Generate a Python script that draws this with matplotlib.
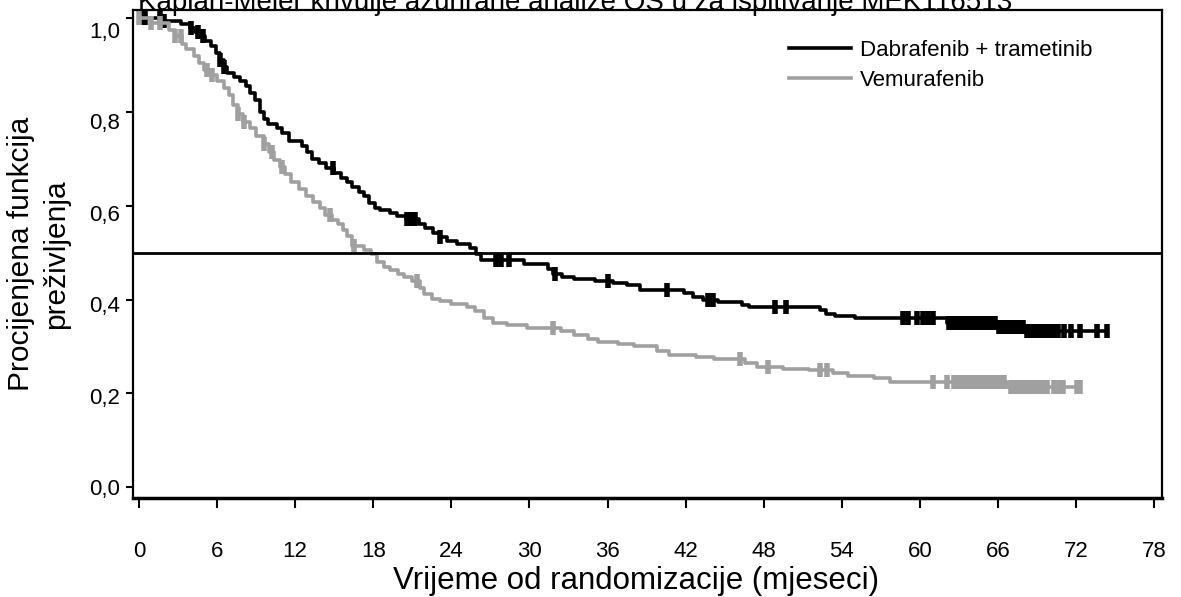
import numpy as np
import matplotlib
matplotlib.use('Agg')
import matplotlib.pyplot as plt
import matplotlib.transforms as mtransforms

plt.rcParams['font.family'] = ['Liberation Sans', 'DejaVu Sans']

# Dabrafenib + trametinib: step times (months) and survival after each step
dt_time = [0, 1.9, 3.2, 3.9, 4.3, 4.7, 5.1, 5.5, 5.9, 6.2, 6.5, 6.8, 7.3, 7.8, 8.2, 8.5,
           8.9, 9.3, 9.6, 9.9, 10.6, 11.0, 11.5, 12.5, 12.9, 13.3, 13.8, 14.4, 15.0, 15.5,
           16.0, 16.4, 16.9, 17.3, 17.7, 18.1, 18.5, 19.3, 19.8, 20.5, 21.5, 22.0, 22.6,
           23.1, 23.7, 24.4, 25.4, 25.9, 26.3, 29.6, 31.4, 31.8, 32.5, 33.4, 35.0, 36.4,
           37.5, 38.5, 41.9, 42.6, 43.3, 44.5, 46.3, 46.9, 52.3, 52.8, 53.5, 55.0, 62.1,
           66.0, 68.1]
dt_surv = [1.0, 0.993, 0.988, 0.978, 0.97, 0.962, 0.952, 0.94, 0.925, 0.91, 0.895, 0.882,
           0.875, 0.866, 0.855, 0.84, 0.825, 0.80, 0.785, 0.775, 0.765, 0.755, 0.738, 0.728,
           0.715, 0.70, 0.69, 0.68, 0.67, 0.66, 0.65, 0.64, 0.63, 0.62, 0.605, 0.595, 0.59,
           0.585, 0.578, 0.572, 0.56, 0.552, 0.542, 0.533, 0.525, 0.518, 0.51, 0.498, 0.484,
           0.476, 0.465, 0.455, 0.448, 0.443, 0.44, 0.435, 0.43, 0.42, 0.413, 0.405, 0.398,
           0.394, 0.388, 0.384, 0.377, 0.37, 0.365, 0.361, 0.35, 0.342, 0.334]
dt_end = 74.4
dt_cens = [0.2, 0.5, 1.6, 1.9, 4.0, 4.5, 4.9, 6.2, 6.5, 14.9, 20.6, 20.9, 21.2, 23.1,
           27.4, 27.8, 28.4, 32.0, 36.0, 40.6, 43.7, 44.1, 48.9, 49.7, 58.7, 59.1, 59.8,
           60.2, 60.6, 61.0, 62.2, 62.5, 62.8, 63.1, 63.4, 63.7, 64.0, 64.3, 64.6, 64.9,
           65.2, 65.5, 65.8, 66.1, 66.4, 66.7, 67.0, 67.3, 67.6, 67.9, 68.2, 68.5, 68.8,
           69.1, 69.4, 69.7, 70.0, 70.3, 70.6, 71.1, 71.6, 72.3, 73.6, 74.4]

# Vemurafenib
vem_time = [0, 0.9, 2.3, 2.8, 3.3, 3.6, 4.2, 4.6, 5.0, 5.5, 6.0, 6.5, 6.9, 7.2, 7.6, 8.0,
            8.5, 9.0, 9.6, 10.0, 10.4, 10.8, 11.2, 11.7, 12.3, 12.8, 13.4, 13.9, 14.3, 14.8,
            15.3, 15.7, 16.0, 16.4, 17.3, 17.8, 18.3, 18.8, 19.3, 19.9, 20.4, 21.0, 21.6,
            21.9, 22.5, 23.1, 24.0, 25.2, 25.8, 26.5, 27.2, 28.3, 29.8, 32.4, 33.4, 34.5,
            35.3, 36.8, 38.0, 39.8, 40.7, 42.8, 44.2, 46.6, 47.5, 49.5, 51.5, 53.3, 54.5,
            56.5, 57.7, 66.7]
vem_surv = [1.0, 0.99, 0.975, 0.962, 0.945, 0.935, 0.92, 0.905, 0.89, 0.878, 0.865, 0.85,
            0.835, 0.815, 0.795, 0.778, 0.765, 0.748, 0.732, 0.715, 0.698, 0.683, 0.668,
            0.65, 0.635, 0.62, 0.607, 0.595, 0.58, 0.57, 0.56, 0.548, 0.535, 0.515, 0.505,
            0.498, 0.48, 0.47, 0.462, 0.455, 0.447, 0.44, 0.425, 0.412, 0.402, 0.396, 0.39,
            0.384, 0.375, 0.36, 0.35, 0.345, 0.339, 0.333, 0.325, 0.316, 0.309, 0.305, 0.30,
            0.29, 0.282, 0.277, 0.273, 0.265, 0.257, 0.253, 0.25, 0.244, 0.238, 0.232,
            0.225, 0.213]
vem_end = 72.3
vem_cens = [0.0, 0.9, 1.6, 2.8, 3.2, 5.2, 5.6, 7.6, 8.1, 9.6, 10.2, 11.0, 14.7, 16.5,
            21.4, 31.8, 46.2, 48.3, 52.3, 52.9, 61.0, 62.1, 62.6, 62.9, 63.2, 63.5, 63.8,
            64.1, 64.4, 64.7, 65.0, 65.3, 65.6, 65.9, 66.2, 66.5, 67.0, 67.3, 67.6, 67.9,
            68.2, 68.5, 68.9, 69.2, 69.5, 69.8, 70.3, 70.7, 71.0, 72.1, 72.3]

x_ticks = np.arange(0, 79, 6)
y_ticks = [0.0, 0.2, 0.4, 0.6, 0.8, 1.0]
y_labels = ['0,0', '0,2', '0,4', '0,6', '0,8', '1,0']

GRAY = '#a0a0a0'


def km_xy(t, s, t_end):
    x = list(t) + [t_end]
    y = list(s) + [s[-1]]
    return x, y


def surv_at(t, s, tc):
    idx = np.searchsorted(t, tc, side='right') - 1
    return np.array(s)[idx]


fig = plt.figure(figsize=(11.81, 5.97), dpi=100)
ax = fig.add_axes([0.1126, 0.1658, 0.8713, 0.8174])

for t, s, te, cens, col, lab in [
        (dt_time, dt_surv, dt_end, dt_cens, 'black', 'Dabrafenib + trametinib'),
        (vem_time, vem_surv, vem_end, vem_cens, GRAY, 'Vemurafenib')]:
    x, y = km_xy(t, s, te)
    ax.step(x, y, where='post', color=col, lw=2.6, label=lab)
    ax.plot(cens, surv_at(t, s, cens), ls='none', marker='|', ms=10, mew=4, color=col)

ax.axhline(0.5, color='black', lw=2.0)

ax.set_xlim(-0.46, 78.6)
ax.set_ylim(-0.023, 1.017)
ax.set_xticks(x_ticks)
ax.set_yticks(y_ticks)
ax.set_yticklabels(y_labels)
ax.tick_params(axis='x', length=7, width=1.5, pad=24, labelsize=16)
ax.tick_params(axis='y', length=5, width=1.5, pad=4, labelsize=16)
for v, lbl in zip(y_ticks, ax.get_yticklabels()):
    lbl.set_transform(lbl.get_transform() +
                      mtransforms.ScaledTranslation(0, -v * 0.12, fig.dpi_scale_trans))

for side in ['left', 'top', 'right']:
    ax.spines[side].set_linewidth(1.6)
ax.spines['bottom'].set_linewidth(2.5)

ax.set_xlabel('Vrijeme od randomizacije (mjeseci)', fontsize=22.5, labelpad=3)
ax.xaxis.label.set_x(0.489)
ax.set_ylabel('Procijenjena funkcija\npreživljenja', fontsize=21.5, labelpad=14,
              linespacing=1.3)

ax.legend(loc='upper right', bbox_to_anchor=(0.952, 0.98), frameon=False, fontsize=16,
          handlelength=2.8, handletextpad=0.4, labelspacing=0.4)

fig.text(0.487, 0.983, 'Kaplan-Meier krivulje ažurirane analize OS u za ispitivanje MEK116513',
         ha='center', va='baseline', fontsize=20)

fig.savefig('out.png', dpi=100)
